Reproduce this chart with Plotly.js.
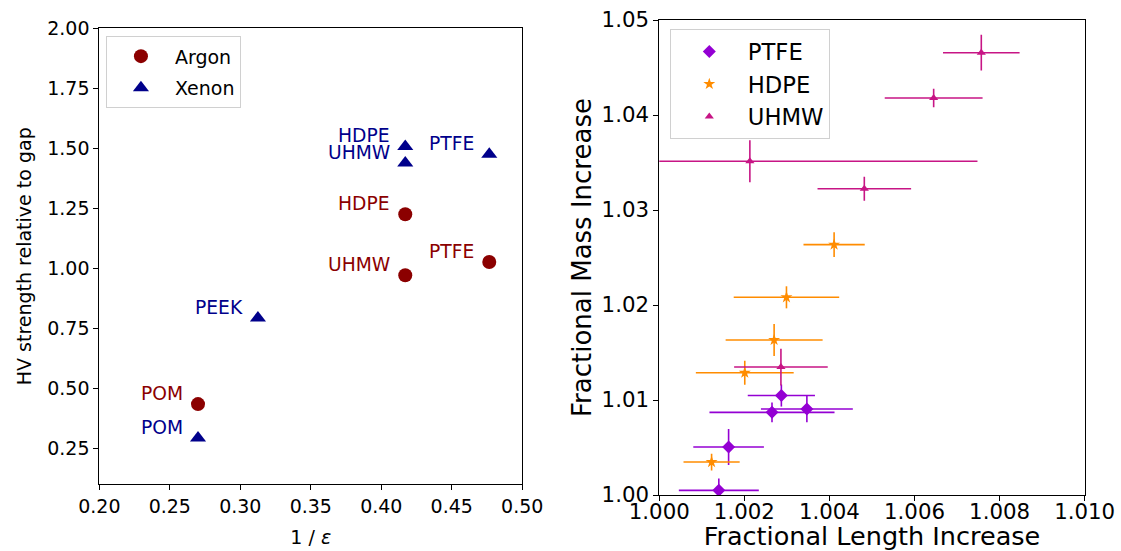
<!DOCTYPE html>
<html>
<head>
<meta charset="utf-8">
<script src="https://cdn.plot.ly/plotly-3.0.1.min.js"></script>
<style>
html,body{margin:0;padding:0;background:#fff;}
#chart{width:1121px;height:551px;}
</style>
</head>
<body>
<div id="chart"></div>
<script>
// ---- Left panel data: HV strength vs 1/epsilon ----
const argonNames = ['POM', 'HDPE', 'UHMW', 'PTFE'];
const argonX = [0.270, 0.417, 0.417, 0.4766];
const argonY = [0.434, 1.225, 0.971, 1.026];

const xenonNames = ['POM', 'PEEK', 'HDPE', 'UHMW', 'PTFE'];
const xenonX = [0.270, 0.3125, 0.417, 0.417, 0.4766];
const xenonY = [0.293, 0.793, 1.508, 1.439, 1.475];

// ---- Right panel data: fractional mass vs length increase ----
const ptfeX = [1.00287, 1.00347, 1.00265, 1.00163, 1.00140];
const ptfeY = [1.01047, 1.00905, 1.00870, 1.00505, 1.00049];
const ptfeXErr = [0.00079, 0.00108, 0.00147, 0.00083, 0.00094];
const ptfeYErr = [0.00116, 0.00139, 0.00105, 0.00190, 0.00126];

const hdpeX = [1.00411, 1.00299, 1.00270, 1.00201, 1.00123];
const hdpeY = [1.02636, 1.02081, 1.01632, 1.01287, 1.00347];
const hdpeXErr = [0.00072, 0.00124, 0.00114, 0.00115, 0.00066];
const hdpeYErr = [0.00130, 0.00116, 0.00168, 0.00126, 0.00088];

const uhmwX = [1.00757, 1.00645, 1.00213, 1.00482, 1.00286];
const uhmwY = [1.04656, 1.04179, 1.03513, 1.03224, 1.01347];
const uhmwXErr = [0.00090, 0.00115, 0.00535, 0.00110, 0.00110];
const uhmwYErr = [0.00188, 0.00098, 0.00221, 0.00126, 0.00193];

const leftXTicks = [0.20, 0.25, 0.30, 0.35, 0.40, 0.45, 0.50];
const leftYTicks = [0.25, 0.50, 0.75, 1.00, 1.25, 1.50, 1.75, 2.00];
const rightXTicks = [1.000, 1.002, 1.004, 1.006, 1.008, 1.010];
const rightYTicks = [1.00, 1.01, 1.02, 1.03, 1.04, 1.05];

const FONT = 'DejaVu Sans, sans-serif';
const ARGON = '#8B0000';
const XENON = '#00008B';
const C_PTFE = '#9400D3';
const C_HDPE = '#FF8C00';
const C_UHMW = '#C71585';

function errTrace(name, x, y, ex, ey, color, symbol, size) {
  return {
    type: 'scatter', mode: 'markers', name: name, x: x, y: y,
    xaxis: 'x2', yaxis: 'y2', legend: 'legend2',
    marker: {color: color, symbol: symbol, size: size},
    error_x: {type: 'data', array: ex, visible: true, color: color, thickness: 1.6, width: 0},
    error_y: {type: 'data', array: ey, visible: true, color: color, thickness: 1.6, width: 0}
  };
}

const traces = [
  {type: 'scatter', mode: 'markers', name: 'Argon', x: argonX, y: argonY,
   xaxis: 'x', yaxis: 'y', legend: 'legend', legendgroup: 'ar',
   marker: {color: ARGON, symbol: 'circle', size: 14}},
  {type: 'scatter', mode: 'markers', name: 'Xenon', x: xenonX, y: xenonY,
   xaxis: 'x', yaxis: 'y', legend: 'legend', legendgroup: 'xe',
   marker: {color: XENON, symbol: 'triangle-up', size: 14}},
  errTrace('PTFE', ptfeX, ptfeY, ptfeXErr, ptfeYErr, C_PTFE, 'diamond', 10),
  errTrace('HDPE', hdpeX, hdpeY, hdpeXErr, hdpeYErr, C_HDPE, 'star', 9),
  errTrace('UHMW', uhmwX, uhmwY, uhmwXErr, uhmwYErr, C_UHMW, 'triangle-up', 8)
];

const annotations = [];
function addLabels(names, xs, ys, color) {
  names.forEach((n, i) => {
    annotations.push({
      xref: 'x', yref: 'y', x: xs[i], y: ys[i], text: n, showarrow: false,
      xanchor: 'right', yanchor: 'bottom', xshift: -13, yshift: -2,
      font: {family: FONT, size: 18.7, color: color}
    });
  });
}
addLabels(argonNames, argonX, argonY, ARGON);
addLabels(xenonNames, xenonX, xenonY, XENON);

const axBase = {
  showline: true, linecolor: '#000', linewidth: 1, mirror: true,
  ticks: 'outside', ticklen: 5, tickwidth: 1, tickcolor: '#000',
  showgrid: false, zeroline: false, automargin: false
};

const layout = {
  width: 1121, height: 551,
  margin: {l: 0, r: 0, t: 0, b: 0},
  paper_bgcolor: '#fff', plot_bgcolor: '#fff',
  font: {family: FONT, color: '#000'},
  showlegend: true,
  xaxis: Object.assign({}, axBase, {
    domain: [0.0886, 0.4659], range: [0.2, 0.5], anchor: 'y',
    tickvals: leftXTicks, tickformat: '.2f',
    tickfont: {family: FONT, size: 19},
    title: {text: '1 / <i>ε</i>', font: {family: FONT, size: 19}, standoff: 14}
  }),
  yaxis: Object.assign({}, axBase, {
    domain: [0.1211, 0.9486], range: [0.1, 2.0], anchor: 'x',
    tickvals: leftYTicks, tickformat: '.2f',
    tickfont: {family: FONT, size: 19},
    title: {text: 'HV strength relative to gap', font: {family: FONT, size: 19}, standoff: 10}
  }),
  xaxis2: Object.assign({}, axBase, {
    domain: [0.5881, 0.9676], range: [1.000, 1.010], anchor: 'y2',
    tickvals: rightXTicks, tickformat: '.3f', ticklabelstandoff: -8,
    tickfont: {family: FONT, size: 21.3},
    title: {text: 'Fractional Length Increase', font: {family: FONT, size: 25.5}, standoff: 12}
  }),
  yaxis2: Object.assign({}, axBase, {
    domain: [0.1016, 0.9637], range: [1.00, 1.05], anchor: 'x2',
    tickvals: rightYTicks, tickformat: '.2f',
    tickfont: {family: FONT, size: 21.3},
    title: {text: 'Fractional Mass Increase', font: {family: FONT, size: 26}, standoff: 2}
  }),
  legend: {
    x: 0.0945, y: 0.9341, xanchor: 'left', yanchor: 'top',
    bgcolor: '#fff', bordercolor: '#d0d0d0', borderwidth: 1,
    font: {family: FONT, size: 19}, itemwidth: 58,
    traceorder: 'grouped', tracegroupgap: 4
  },
  legend2: {
    x: 0.5975, y: 0.9470, xanchor: 'left', yanchor: 'top',
    bgcolor: '#fff', bordercolor: '#d0d0d0', borderwidth: 1,
    font: {family: FONT, size: 22.7}, itemwidth: 67
  },
  annotations: annotations
};

Plotly.newPlot('chart', traces, layout, {displayModeBar: false, staticPlot: true});
</script>
</body>
</html>
